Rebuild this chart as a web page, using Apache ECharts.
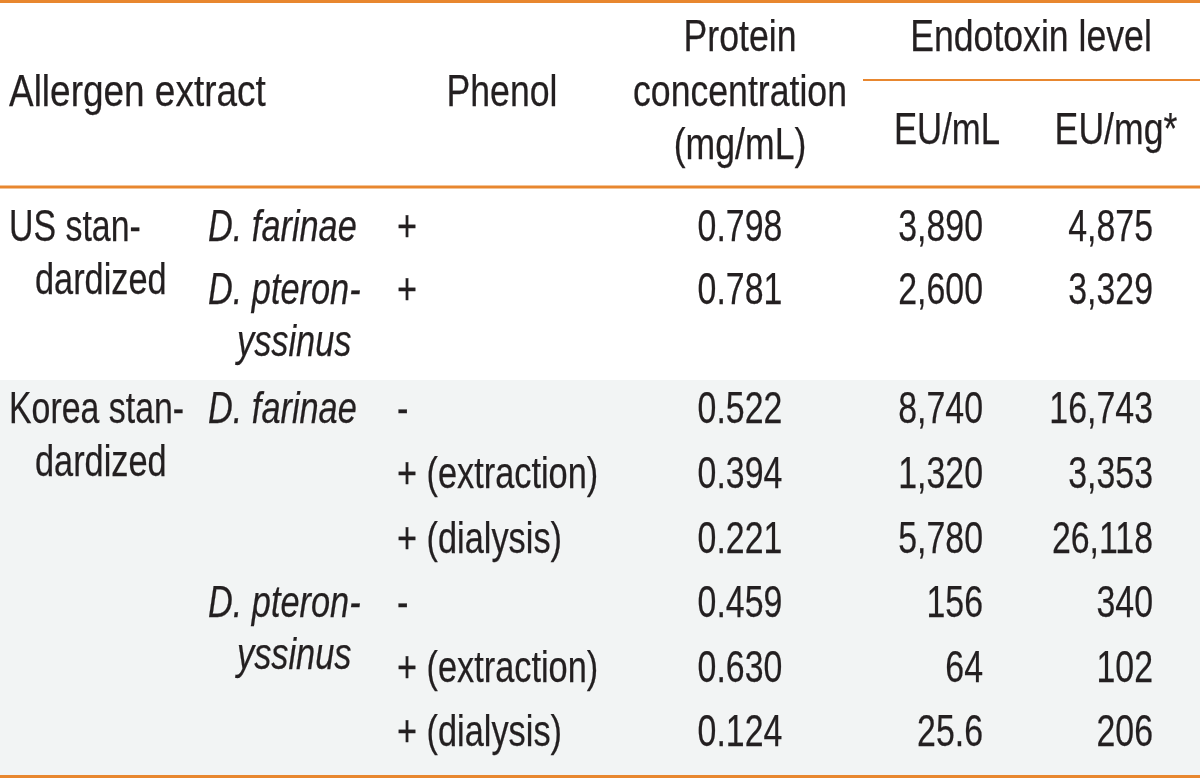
<!DOCTYPE html>
<html>
<head>
<meta charset="utf-8">
<script src="https://cdn.jsdelivr.net/npm/echarts@6/dist/echarts.min.js"></script>
<style>
  html, body { margin: 0; padding: 0; background: #ffffff; }
  #chart { width: 1200px; height: 778px; }
</style>
</head>
<body>
<div id="chart"></div>
<script>
// ---------------- DATA ----------------
const headerAllergen = 'Allergen extract';
const headerPhenol = 'Phenol';
const headerProtein = ['Protein', 'concentration', '(mg/mL)'];
const headerEndotoxin = 'Endotoxin level';
const headerUnits = ['EU/mL', 'EU/mg*'];

const groupLabels = [['US stan-', 'dardized'], ['Korea stan-', 'dardized']];
const groupStartRow = [0, 2];
const speciesLabels = [['D. farinae'], ['D. pteron-', 'yssinus'], ['D. farinae'], ['D. pteron-', 'yssinus']];
const speciesStartRow = [0, 1, 2, 5];
const phenolLabels = ['+', '+', '-', '+ (extraction)', '+ (dialysis)', '-', '+ (extraction)', '+ (dialysis)'];
const proteinConc = [0.798, 0.781, 0.522, 0.394, 0.221, 0.459, 0.630, 0.124];
const endotoxinEUperML = [3890, 2600, 8740, 1320, 5780, 156, 64, 25.6];
const endotoxinEUperMg = [4875, 3329, 16743, 3353, 26118, 340, 102, 206];

// ---------------- LAYOUT (positions / styles) ----------------
const W = 1200, H = 778;
const FS = 44;
const FONT = "'Liberation Sans', Arial, sans-serif";
const TEXT_SCALE = 0.81;   // condensed look for words
const ITALIC_SCALE = 0.78;
const NUM_SCALE = 0.77;    // condensed look for figures
const TEXT_COLOR = '#231f20';
const RULE_COLOR = '#e8872f';
const BAND_COLOR = '#f2f4f4';
const colX = {
  group: 9, groupCont: 35, species: 208, speciesCont: 237, phenol: 397,
  phenolHead: 502, protein: 740, euml: 983, eumg: 1153,
  emlHead: 947, emgHead: 1116, endoHead: 1031
};
const headBase = { l1: 55, l2: 110, l3: 163, units: 148 };
const usFirst = 245, usStep = 63, krFirst = 427, krStep = 64.6;
const contStep = 52;
const rules = [
  { x0: 0, x1: W, y: 1.5, w: 3 },
  { x0: 0, x1: W, y: 187, w: 3 },
  { x0: 863, x1: W, y: 80, w: 2 },
  { x0: 0, x1: W, y: 776.5, w: 3 }
];
const bands = [{ x0: 0, x1: W, y0: 380, y1: 775 }];

function rowBase(i) {
  return i < 2 ? usFirst + i * usStep : krFirst + (i - 2) * krStep;
}

// ---------------- CELLS ----------------
const cells = [];
function addCell(text, x, baseline, align, italic, scale) {
  cells.push({ text: text, value: [x, baseline - FS * 0.36], align: align, italic: !!italic,
    scale: scale || (italic ? ITALIC_SCALE : TEXT_SCALE) });
}
addCell(headerAllergen, colX.group, headBase.l2, 'left', false, 0.84);
addCell(headerPhenol, colX.phenolHead, headBase.l2, 'center');
headerProtein.forEach((t, k) => addCell(t, colX.protein, [headBase.l1, headBase.l2, headBase.l3][k], 'center'));
addCell(headerEndotoxin, colX.endoHead, headBase.l1, 'center');
addCell(headerUnits[0], colX.emlHead, headBase.units, 'center', false, 0.79);
addCell(headerUnits[1], colX.emgHead, headBase.units, 'center');

groupLabels.forEach((lines, g) => {
  const b = rowBase(groupStartRow[g]);
  lines.forEach((t, k) => addCell(t, k === 0 ? colX.group : colX.groupCont, b + k * (contStep + 1), 'left', false, k === 0 ? 0.77 : 0.78));
});
speciesLabels.forEach((lines, s) => {
  const b = rowBase(speciesStartRow[s]);
  lines.forEach((t, k) => addCell(t, k === 0 ? colX.species : colX.speciesCont, b + k * contStep, 'left', true));
});
const fmt = new Intl.NumberFormat('en-US', { maximumFractionDigits: 1 });
phenolLabels.forEach((t, i) => {
  const b = rowBase(i);
  addCell(t, colX.phenol, b, 'left', false, 0.78);
  addCell(proteinConc[i].toFixed(3), colX.protein, b, 'center', false, NUM_SCALE);
  addCell(fmt.format(endotoxinEUperML[i]), colX.euml, b, 'right', false, NUM_SCALE);
  addCell(fmt.format(endotoxinEUperMg[i]), colX.eumg, b, 'right', false, NUM_SCALE);
});

// ---------------- CHART ----------------
const chart = echarts.init(document.getElementById('chart'), null, { renderer: 'canvas' });
chart.setOption({
  animation: false,
  backgroundColor: '#ffffff',
  grid: { left: 0, right: 0, top: 0, bottom: 0 },
  xAxis: { type: 'value', min: 0, max: W, show: false },
  yAxis: { type: 'value', min: 0, max: H, inverse: true, show: false },
  series: [
    {
      type: 'custom', z: 1, silent: true,
      data: bands.map(b => [b.x0, b.y0, b.x1, b.y1]),
      renderItem: function (params, api) {
        const p0 = api.coord([api.value(0), api.value(1)]);
        const p1 = api.coord([api.value(2), api.value(3)]);
        return { type: 'rect', shape: { x: p0[0], y: p0[1], width: p1[0] - p0[0], height: p1[1] - p0[1] }, style: { fill: BAND_COLOR } };
      }
    },
    {
      type: 'custom', z: 2, silent: true,
      data: rules.map(r => [r.x0, r.y, r.x1, r.w]),
      renderItem: function (params, api) {
        const p0 = api.coord([api.value(0), api.value(1)]);
        const p1 = api.coord([api.value(2), api.value(1)]);
        return { type: 'line', shape: { x1: p0[0], y1: p0[1], x2: p1[0], y2: p1[1] }, style: { stroke: RULE_COLOR, lineWidth: api.value(3) } };
      }
    },
    {
      type: 'custom', z: 3, silent: true,
      data: cells.map(c => c.value),
      renderItem: function (params, api) {
        const c = cells[params.dataIndex];
        const p = api.coord([api.value(0), api.value(1)]);
        return {
          type: 'text', x: p[0], y: p[1], scaleX: c.scale, scaleY: 1,
          style: {
            text: c.text, fill: TEXT_COLOR, fontSize: FS, fontFamily: FONT,
            fontStyle: c.italic ? 'italic' : 'normal',
            stroke: TEXT_COLOR, lineWidth: 0.25,
            align: c.align, verticalAlign: 'middle'
          }
        };
      }
    }
  ]
});
</script>
</body>
</html>
